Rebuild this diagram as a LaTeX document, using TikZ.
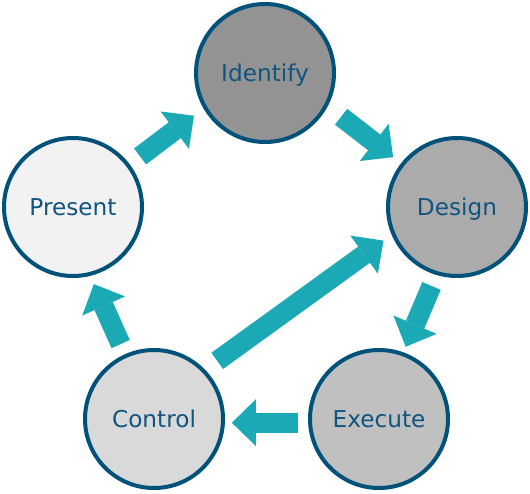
\documentclass[tikz,border=0pt]{standalone}
\usepackage{fontspec}
\setmainfont{DejaVu Sans}
\usetikzlibrary{arrows.meta}

\definecolor{ringblue}{RGB}{0,82,122}
\definecolor{labelblue}{RGB}{16,84,128}
\definecolor{arrowteal}{RGB}{26,169,181}

\tikzset{
  stage/.style={circle, draw=ringblue, line width=4pt, minimum size=138pt,
    inner sep=0pt, text=labelblue, text height=17pt, text depth=0pt,
    font=\fontsize{23.2}{27}\selectfont},
  flow/.style={color=arrowteal, line width=20pt,
    -{Triangle[length=24pt,width=47pt,line width=0pt]}}
}

\begin{document}
\begin{tikzpicture}[x=1pt, y=-1pt]
\useasboundingbox (0,0) rectangle (530,493);

% stages
\foreach \name/\x/\y/\g/\txt in {identify/265/73/147/Identify, design/457/207/171/Design,
    execute/379/419/192/Execute, control/154/419/217/Control, present/73/207/242/Present} {
  \definecolor{stagefill}{RGB}{\g,\g,\g}
  \node[stage, fill=stagefill] (\name) at (\x,\y) {\txt};
}

% arrows between stages
\foreach \from/\fa/\to/\ta/\s/\e in {present/37/identify/210/13/12,
    identify/332/design/142/17/10, control/44/design/203/15/10,
    design/253/execute/70/12/6, execute/183/control/357/10/7,
    control/114/present/284/11/9} {
  \draw[flow, shorten <=\s pt, shorten >=\e pt] (\from.\fa) -- (\to.\ta);
}

\end{tikzpicture}
\end{document}
